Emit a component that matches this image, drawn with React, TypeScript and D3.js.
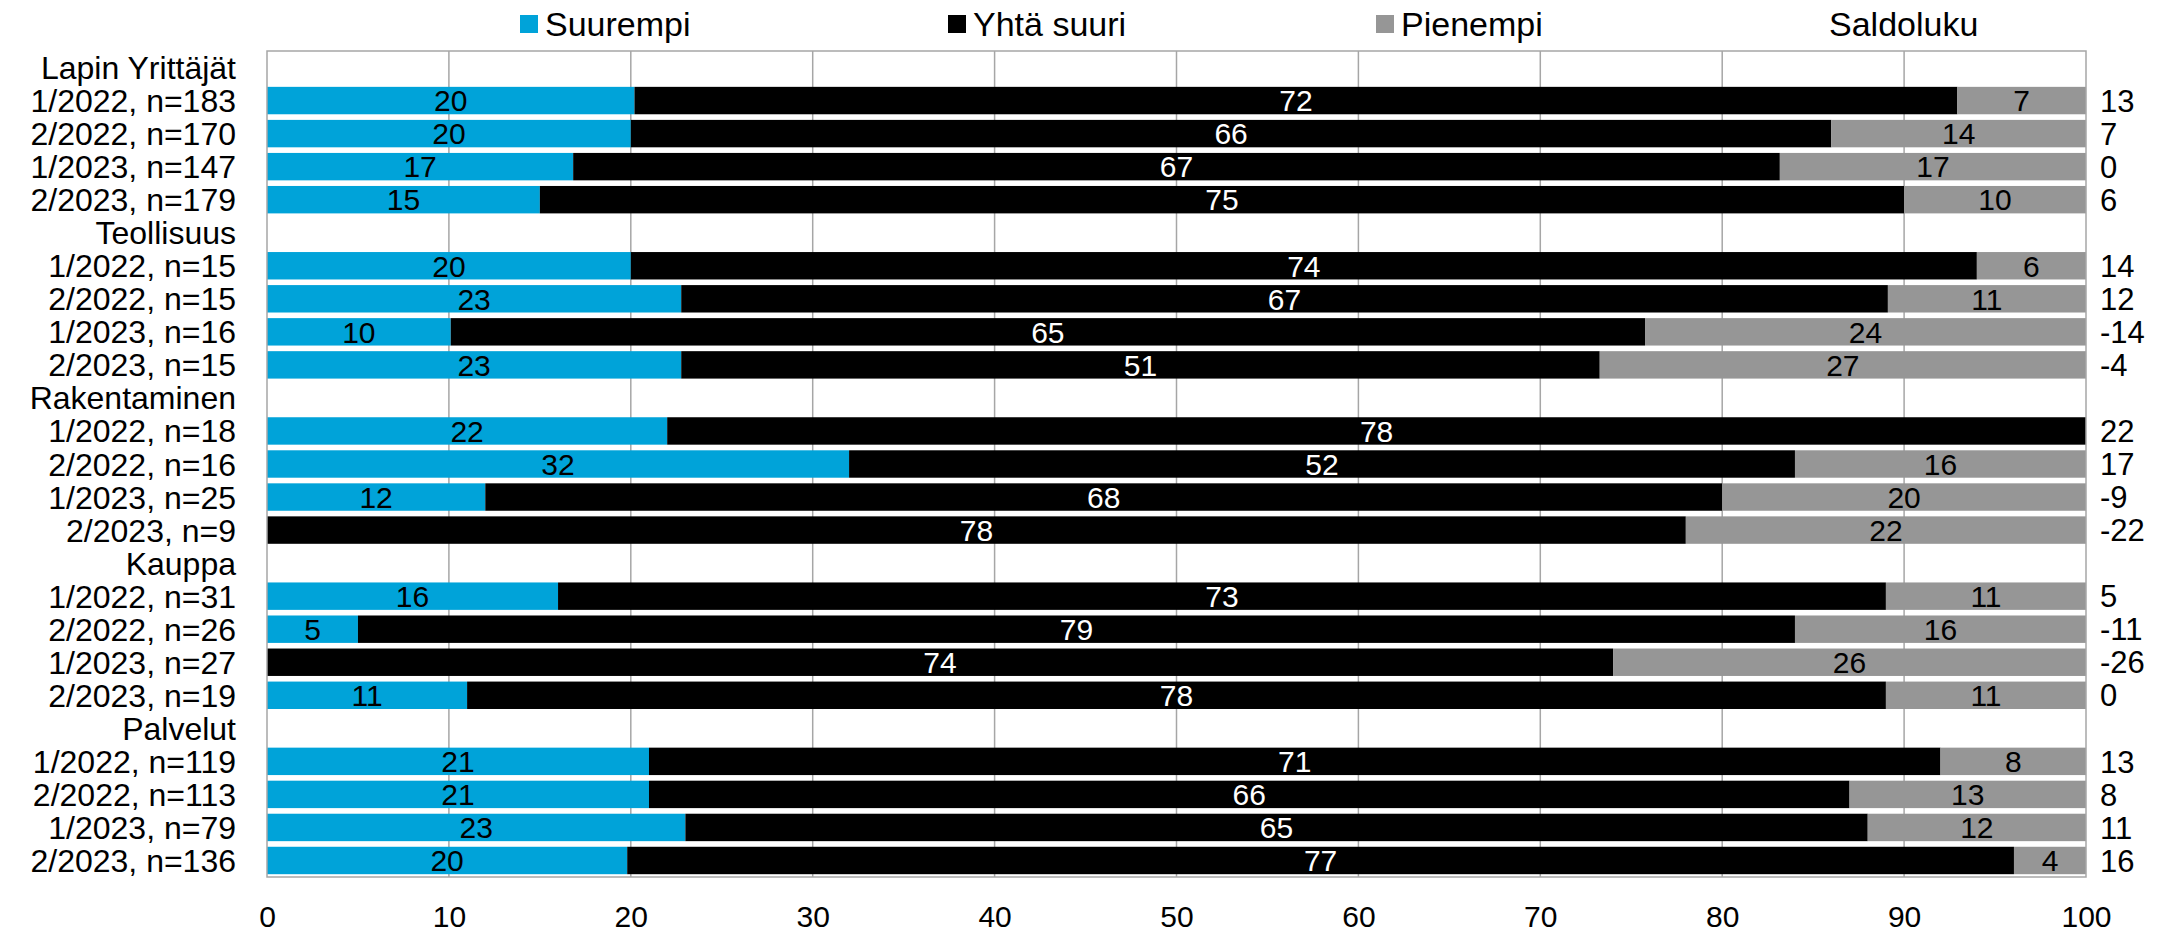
import React, { useEffect, useRef } from 'react';
import * as d3 from 'd3';

const groups = ['Lapin Yrittäjät', 'Teollisuus', 'Rakentaminen', 'Kauppa', 'Palvelut'];
const periods = ['1/2022', '2/2022', '1/2023', '2/2023'];
const nCounts = [
  [183, 170, 147, 179],
  [15, 15, 16, 15],
  [18, 16, 25, 9],
  [31, 26, 27, 19],
  [119, 113, 79, 136],
];

// one entry per data row, groups in order
const suurempi = [20, 20, 17, 15, 20, 23, 10, 23, 22, 32, 12, 0, 16, 5, 0, 11, 21, 21, 23, 20];
const yhtaSuuri = [72, 66, 67, 75, 74, 67, 65, 51, 78, 52, 68, 78, 73, 79, 74, 78, 71, 66, 65, 77];
const pienempi = [7, 14, 17, 10, 6, 11, 24, 27, 0, 16, 20, 22, 11, 16, 26, 11, 8, 13, 12, 4];
const saldoluku = [13, 7, 0, 6, 14, 12, -14, -4, 22, 17, -9, -22, 5, -11, -26, 0, 13, 8, 11, 16];

const seriesKeys = ['Suurempi', 'Yhtä suuri', 'Pienempi'];
const seriesColors = ['#00A3D9', '#000000', '#969696'];
const labelColors = ['#000000', '#ffffff', '#000000'];
const xTicks = [0, 10, 20, 30, 40, 50, 60, 70, 80, 90, 100];

interface Row {
  key: string;
  label: string;
  header: boolean;
  idx: number;
}

interface DataRow {
  key: string;
  idx: number;
  [k: string]: number | string;
}

export default function App() {
  const ref = useRef<SVGSVGElement>(null);

  useEffect(() => {
    const width = 2177;
    const height = 933;
    const margin = { top: 51, bottom: 56, left: 267, right: 91 };
    const font = "'Liberation Sans', Arial, sans-serif";

    const rows: Row[] = [];
    const dataRows: DataRow[] = [];
    let i = 0;
    groups.forEach((g, gi) => {
      rows.push({ key: `h${gi}`, label: g, header: true, idx: -1 });
      periods.forEach((p, pi) => {
        const key = `r${gi}-${pi}`;
        rows.push({ key, label: `${p}, n=${nCounts[gi][pi]}`, header: false, idx: i });
        dataRows.push({
          key,
          idx: i,
          Suurempi: suurempi[i],
          'Yhtä suuri': yhtaSuuri[i],
          Pienempi: pienempi[i],
        });
        i++;
      });
    });

    const svg = d3.select(ref.current);
    svg.selectAll('*').remove();

    const xScale = d3
      .scaleLinear()
      .domain([0, 1])
      .range([margin.left, width - margin.right]);

    const yScale = d3
      .scaleBand()
      .domain(rows.map((r) => r.key))
      .range([margin.top, height - margin.bottom])
      .paddingInner(0.17)
      .paddingOuter(0.085);

    const stacked = d3
      .stack<DataRow>()
      .keys(seriesKeys)
      .value((d, k) => d[k] as number)
      .offset(d3.stackOffsetExpand)(dataRows);

    // gridlines
    svg
      .append('g')
      .selectAll('line')
      .data(xTicks.slice(1, -1))
      .enter()
      .append('line')
      .attr('x1', (d) => xScale(d / 100))
      .attr('x2', (d) => xScale(d / 100))
      .attr('y1', margin.top)
      .attr('y2', height - margin.bottom)
      .attr('stroke', '#a6a6a6')
      .attr('stroke-width', 1.5);

    // bars
    const layer = svg
      .append('g')
      .selectAll('g')
      .data(stacked)
      .enter()
      .append('g')
      .attr('fill', (_, si) => seriesColors[si]);

    layer
      .selectAll('rect')
      .data((s) => s)
      .enter()
      .append('rect')
      .attr('x', (d) => xScale(d[0]))
      .attr('y', (d) => yScale(d.data.key) as number)
      .attr('width', (d) => xScale(d[1]) - xScale(d[0]))
      .attr('height', yScale.bandwidth());

    // segment labels
    stacked.forEach((s, si) => {
      svg
        .append('g')
        .selectAll('text')
        .data(s.filter((d) => (d.data[s.key] as number) > 0))
        .enter()
        .append('text')
        .attr('x', (d) => (xScale(d[0]) + xScale(d[1])) / 2)
        .attr('y', (d) => (yScale(d.data.key) as number) + yScale.bandwidth() / 2)
        .attr('dy', '0.36em')
        .attr('text-anchor', 'middle')
        .attr('fill', labelColors[si])
        .attr('font-family', font)
        .attr('font-size', 30)
        .text((d) => d.data[s.key] as number);
    });

    // plot border
    svg
      .append('rect')
      .attr('x', margin.left)
      .attr('y', margin.top)
      .attr('width', width - margin.right - margin.left)
      .attr('height', height - margin.bottom - margin.top)
      .attr('fill', 'none')
      .attr('stroke', '#a6a6a6')
      .attr('stroke-width', 1.5);

    // category labels
    svg
      .append('g')
      .selectAll('text')
      .data(rows)
      .enter()
      .append('text')
      .attr('x', 236)
      .attr('y', (d) => (yScale(d.key) as number) + yScale.bandwidth() / 2)
      .attr('dy', '0.36em')
      .attr('text-anchor', 'end')
      .attr('font-family', font)
      .attr('font-size', 32)
      .text((d) => d.label);

    // saldoluku values
    svg
      .append('g')
      .selectAll('text')
      .data(dataRows)
      .enter()
      .append('text')
      .attr('x', width - margin.right + 14)
      .attr('y', (d) => (yScale(d.key) as number) + yScale.bandwidth() / 2)
      .attr('dy', '0.36em')
      .attr('font-family', font)
      .attr('font-size', 31)
      .text((d) => saldoluku[d.idx]);

    // x axis
    const xAxis = d3
      .axisBottom(xScale)
      .tickValues(xTicks.map((t) => t / 100))
      .tickFormat((d) => String(Math.round((d as number) * 100)))
      .tickSize(0)
      .tickPadding(29);

    const ax = svg
      .append('g')
      .attr('transform', `translate(0, ${height - margin.bottom})`)
      .call(xAxis);
    ax.select('.domain').remove();
    ax.selectAll('text')
      .attr('font-family', font)
      .attr('font-size', 30)
      .attr('fill', '#000');

    // legend
    const legendItems = [...seriesKeys, 'Saldoluku'];
    const legend = svg
      .append('g')
      .selectAll('g')
      .data(legendItems)
      .enter()
      .append('g')
      .attr('transform', (_, li) => `translate(${520 + li * 428}, 15)`);

    legend
      .filter((_, li) => li < seriesColors.length)
      .append('rect')
      .attr('width', 18)
      .attr('height', 18)
      .attr('fill', (_, li) => seriesColors[li]);

    legend
      .append('text')
      .attr('x', 25)
      .attr('y', 9)
      .attr('dy', '0.36em')
      .attr('font-family', font)
      .attr('font-size', 34)
      .text((d) => d);
  }, []);

  return (
    <svg
      ref={ref}
      width={2177}
      height={933}
      style={{ position: 'absolute', left: 0, top: 0, background: '#fff' }}
    />
  );
}
